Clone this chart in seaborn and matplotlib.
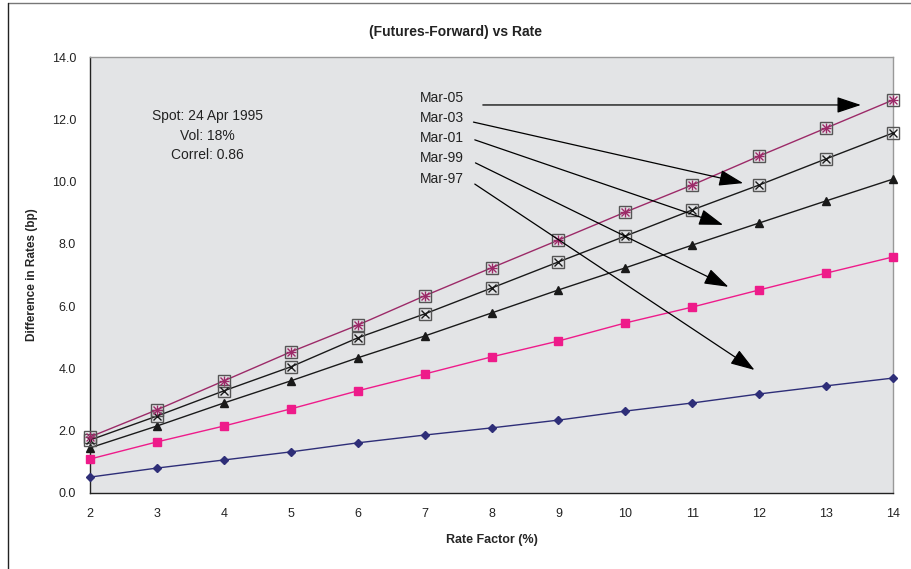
import pandas as pd
import numpy as np
import seaborn as sns
import matplotlib.pyplot as plt
from matplotlib.lines import Line2D

rate_factor = [2, 3, 4, 5, 6, 7, 8, 9, 10, 11, 12, 13, 14]
mar97 = [0.51, 0.80, 1.06, 1.32, 1.61, 1.86, 2.09, 2.34, 2.63, 2.89, 3.18, 3.44, 3.69]
mar99 = [1.09, 1.64, 2.15, 2.70, 3.28, 3.82, 4.37, 4.88, 5.46, 5.97, 6.52, 7.06, 7.58]
mar01 = [1.45, 2.15, 2.89, 3.60, 4.34, 5.04, 5.78, 6.52, 7.23, 7.96, 8.67, 9.38, 10.08]
mar03 = [1.70, 2.47, 3.28, 4.05, 4.98, 5.75, 6.58, 7.42, 8.25, 9.09, 9.89, 10.73, 11.56]
mar05 = [1.80, 2.67, 3.60, 4.53, 5.39, 6.33, 7.23, 8.12, 9.02, 9.89, 10.82, 11.72, 12.62]

series_names = ['Mar-97', 'Mar-99', 'Mar-01', 'Mar-03', 'Mar-05']
# label position and arrow tip for each series
label_y = [10.08, 10.76, 11.40, 12.04, 12.68]
arrow_tail = [(7.75, 9.92), (7.76, 10.60), (7.75, 11.34), (7.73, 11.91), (7.87, 12.46)]
arrow_head = [(11.93, 3.95), (11.54, 6.62), (11.46, 8.61), (11.76, 9.95), (13.52, 12.46)]
info_lines = ['Spot: 24 Apr 1995', 'Vol: 18%', 'Correl: 0.86']

df = pd.DataFrame({'Rate': rate_factor, 'Mar-97': mar97, 'Mar-99': mar99,
                   'Mar-01': mar01, 'Mar-03': mar03, 'Mar-05': mar05})
long = df.melt(id_vars='Rate', var_name='Series', value_name='Diff')

sns.set_style('white')
plt.rcParams['font.family'] = ['Liberation Sans', 'DejaVu Sans']

fig = plt.figure(figsize=(9.12, 5.69), dpi=100)
ax = fig.add_axes([0.0987, 0.1336, 0.8805, 0.7662])
ax.set_facecolor('#e3e4e6')

styles = {
    'Mar-97': dict(color='#2e2e78', marker='D', ms=4.5, mfc='#2e2e78', mec='#2e2e78'),
    'Mar-99': dict(color='#ee1b8a', marker='s', ms=6, mfc='#ee1b8a', mec='#ee1b8a'),
    'Mar-01': dict(color='#1a1a1a', marker='^', ms=6, mfc='#1a1a1a', mec='#1a1a1a'),
    'Mar-03': dict(color='#1a1a1a', marker='s', ms=8.5, mfc='none', mec='#555555'),
    'Mar-05': dict(color='#9c2a68', marker='s', ms=8.5, mfc='none', mec='#555555'),
}

for name in series_names:
    st = styles[name]
    sub = long[long['Series'] == name]
    sns.lineplot(data=sub, x='Rate', y='Diff', ax=ax, color=st['color'], lw=1.0,
                 marker=st['marker'], markersize=st['ms'], markerfacecolor=st['mfc'],
                 markeredgecolor=st['mec'], markeredgewidth=1.0, legend=False,
                 zorder=3, clip_on=False)

# inner glyphs for the boxed markers
ax.plot(rate_factor, mar03, ls='none', marker='x', ms=6, mec='#1a1a1a', mew=1.0, zorder=4, clip_on=False)
ax.plot(rate_factor, mar05, ls='none', marker='x', ms=6, mec='#9c2a68', mew=1.0, zorder=4, clip_on=False)
ax.plot(rate_factor, mar05, ls='none', marker='+', ms=7, mec='#9c2a68', mew=1.0, zorder=4, clip_on=False)

for name, ly, tail, head in zip(series_names, label_y, arrow_tail, arrow_head):
    ax.text(6.93, ly, name, fontsize=10, color='#222222', va='center', ha='left')
    ax.annotate('', xy=head, xytext=tail,
                arrowprops=dict(arrowstyle='-|>,head_length=1.5,head_width=0.5',
                                color='black', lw=0.9, shrinkA=0, shrinkB=0), zorder=5)

for i, t in enumerate(info_lines):
    ax.text(3.75, 12.1 - i * 0.63, t, fontsize=10, color='#222222', ha='center', va='center')

ax.set_xlim(2, 14)
ax.set_ylim(0, 14)
ax.set_xticks(rate_factor)
ax.set_yticks(np.arange(0, 14.1, 2))
ax.set_yticklabels([f'{v:.1f}' for v in np.arange(0, 14.1, 2)])
ax.tick_params(axis='both', labelsize=9, colors='#222222', direction='out', length=4, width=0.8, pad=6)
ax.tick_params(axis='x', pad=7)
ax.set_xlabel('Rate Factor (%)', fontsize=9, fontweight='bold', labelpad=10)
ax.set_ylabel('Difference in Rates (bp)', fontsize=8.5, fontweight='bold', labelpad=10)
fig.text(0.5, 0.944, '(Futures-Forward) vs Rate', fontsize=10, fontweight='bold',
         ha='center', va='center', color='#222222')

for s in ['left', 'bottom']:
    ax.spines[s].set_color('#222222')
    ax.spines[s].set_linewidth(1.0)
for s in ['right', 'top']:
    ax.spines[s].set_color('#999999')
    ax.spines[s].set_linewidth(1.0)

# chart frame on top and left edges
fig.add_artist(Line2D([0.009, 1.0], [0.995, 0.995], color='#777777', lw=1.0, transform=fig.transFigure))
fig.add_artist(Line2D([0.009, 0.009], [0.0, 0.995], color='#222222', lw=1.0, transform=fig.transFigure))

fig.savefig('out.png', dpi=100)
